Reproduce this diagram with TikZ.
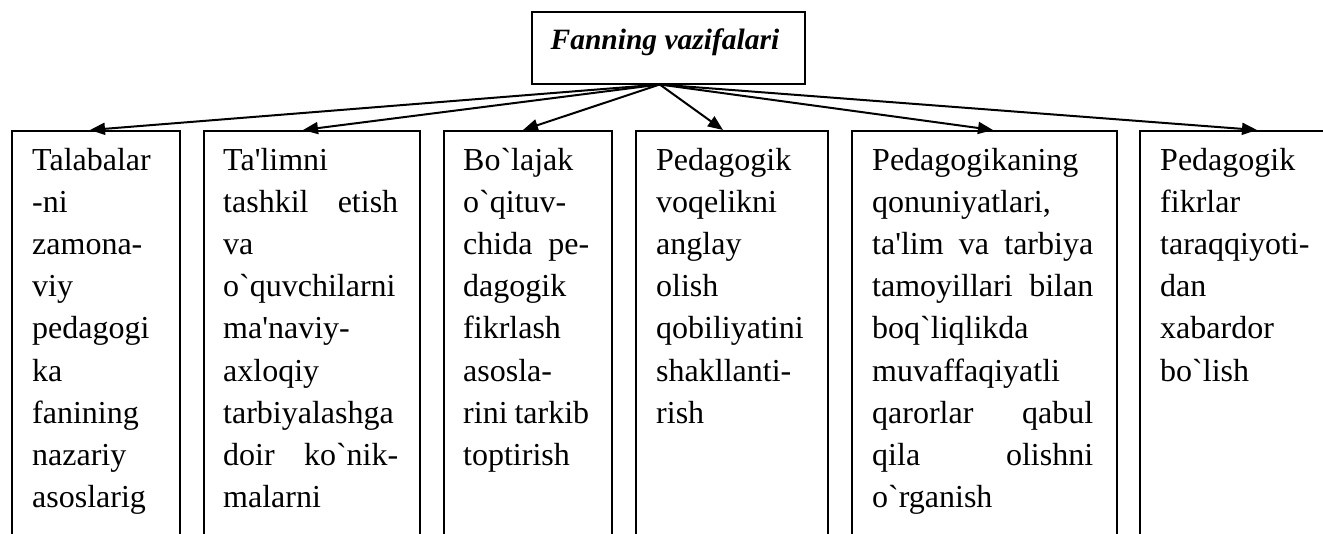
\documentclass[tikz,border=0pt]{standalone}
\usepackage{fontspec}
\setmainfont{Liberation Serif}[Ligatures=TeXOff]
\usetikzlibrary{arrows.meta}
\newcommand{\jl}[2]{\leavevmode\hbox to #1{#2}}
\begin{document}
\begin{tikzpicture}[x=1pt,y=-1pt,
  box/.style={draw,line width=1.5pt,inner sep=0pt,anchor=north west,minimum height=440pt},
  txt/.style={anchor=base west,inner sep=0pt,align=left,font=\fontsize{32}{42.2}\selectfont},
  arr/.style={-{Triangle[length=15pt,width=12pt]},line width=2pt}]
\useasboundingbox (0,0) rectangle (1323,533);
\clip (0,0) rectangle (1323,533);
% top box
\node[box,minimum width=273pt,minimum height=72pt] (top) at (531,11) {};
\node[anchor=base,inner sep=0pt,font=\fontsize{29.5}{35}\selectfont\bfseries\itshape] (title) at (665,49) {Fanning vazifalari};
\coordinate (src) at ([xshift=-8.5pt]top.south);
% boxes
\node[box,minimum width=168pt] (b1) at (11,130) {};
\node[box,minimum width=216pt] (b2) at (203,130) {};
\node[box,minimum width=168pt] (b3) at (443,130) {};
\node[box,minimum width=192pt] (b4) at (635,130) {};
\node[box,minimum width=265pt] (b5) at (851,130) {};
\node[box,minimum width=240pt] (b6) at (1139,130) {};
% texts
\node[txt,text width=135pt] (t1) at (32,170) {Talabalar\\-ni\\zamona-\\viy\\pedagogi\\ka\\fanining\\nazariy\\asoslarig};
\node[txt,text width=176pt] (t2) at (223,170) {Ta'limni\\\jl{175pt}{tashkil\hfill etish}\\va\\o`quvchilarni\\ma'naviy-\\axloqiy\\tarbiyalashga\\\jl{175pt}{doir\hfill ko`nik-}\\malarni};
\node[txt,text width=130pt] (t3) at (463,170) {Bo`lajak\\o`qituv-\\\jl{126pt}{chida\hfill pe-}\\dagogik\\fikrlash\\asosla-\\\jl{126pt}{rini\hfill tarkib}\\toptirish};
\node[txt,text width=160pt] (t4) at (656,170) {Pedagogik\\voqelikni\\anglay\\olish\\qobiliyatini\\shakllanti-\\rish};
\node[txt,text width=225pt] (t5) at (872,170) {Pedagogikaning\\qonuniyatlari,\\\jl{221pt}{ta'lim\hfill va\hfill tarbiya}\\\jl{221pt}{tamoyillari\hfill bilan}\\boq`liqlikda\\muvaffaqiyatli\\\jl{221pt}{qarorlar\hfill qabul}\\\jl{221pt}{qila\hfill olishni}\\o`rganish};
\node[txt,text width=160pt] (t6) at (1160,170) {Pedagogik\\fikrlar\\taraqqiyoti-\\dan\\xabardor\\bo`lish};
% arrows
\draw[arr] (src) -- ([xshift=79pt]b1.north west);
\draw[arr] (src) -- ([xshift=100pt]b2.north west);
\draw[arr] (src) -- ([xshift=80pt]b3.north west);
\draw[arr] (src) -- ([xshift=88pt]b4.north west);
\draw[arr] (src) -- ([xshift=142pt]b5.north west);
\draw[arr] (src) -- ([xshift=118pt]b6.north west);
\end{tikzpicture}
\end{document}
